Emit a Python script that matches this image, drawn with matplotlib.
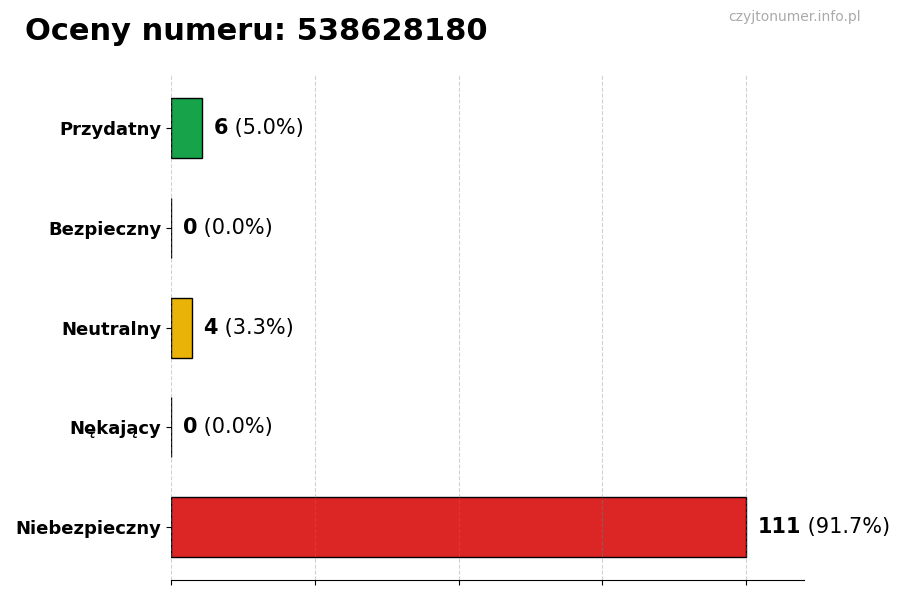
import matplotlib
matplotlib.use("Agg")
import matplotlib.pyplot as plt
import numpy as np

# data ==========================================================
categories = ["Przydatny", "Bezpieczny", "Neutralny", "Nękający", "Niebezpieczny"]
counts = [6, 0, 4, 0, 111]
colors = ["#16a34a", "#9ca3af", "#eab308", "#f97316", "#dc2626"]
number = "538628180"

total = sum(counts)
xmax = max(counts)

# plot ==========================================================
fig, ax = plt.subplots(figsize=(9, 6), dpi=100)
fig.subplots_adjust(left=0.19, right=0.893, top=0.875, bottom=0.033)

y = np.arange(len(categories))[::-1]
ax.barh(y, counts, height=0.6, color=colors, edgecolor="black", linewidth=1)

ax.set_yticks(y)
ax.set_yticklabels(categories, fontsize=13, fontweight="bold")
ax.set_xlim(0, xmax * 1.1)
ax.set_xticks(np.linspace(0, xmax, 5))
ax.set_xticklabels([])
# grid sits on top of the bars, faint
ax.grid(axis="x", linestyle="--", color="gray", alpha=0.35, linewidth=0.8)
for s in ["top", "right", "left"]:
    ax.spines[s].set_visible(False)

# value labels: bold count followed by normal percentage
for yi, c in zip(y, counts):
    t = ax.text(c + xmax * 0.02, yi, str(c), fontsize=15, fontweight="bold",
                va="center", ha="left")
    ax.annotate(f" ({c / total * 100:.1f}%)", xy=(1, 0.5), xycoords=t,
                fontsize=15, va="center", ha="left")

fig.text(0.028, 0.948, f"Oceny numeru: {number}", fontsize=22, fontweight="bold",
         va="center", ha="left")
fig.text(0.956, 0.972, "czyjtonumer.info.pl", fontsize=10, color="#aaaaaa",
         va="center", ha="right")

fig.savefig("out.png", dpi=100)
